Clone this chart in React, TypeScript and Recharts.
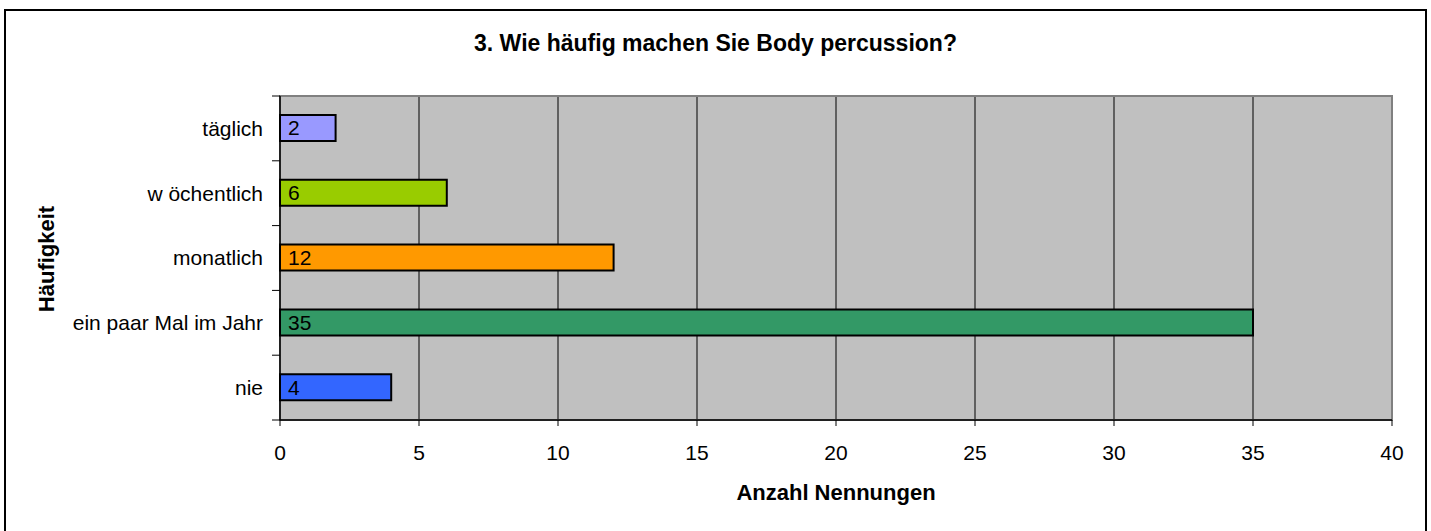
import { BarChart, Bar, XAxis, YAxis, CartesianGrid, Cell, LabelList, ReferenceArea } from 'recharts';

const categories = ['täglich', 'w öchentlich', 'monatlich', 'ein paar Mal im Jahr', 'nie'];
const counts = [2, 6, 12, 35, 4];
const xTicks = [0, 5, 10, 15, 20, 25, 30, 35, 40];

const barColors = ['#9999FF', '#99CC00', '#FF9900', '#339966', '#3366FF'];

const data = categories.map((name, i) => ({ name, value: counts[i] }));

const FONT = "'Liberation Sans', Arial, sans-serif";
const PLOT_HEIGHT = 324;
const BAND = PLOT_HEIGHT / categories.length;

const CategoryTick = (props: any) => {
  const { x, y, payload, index } = props;
  const half = BAND / 2;
  const last = index === categories.length - 1;
  return (
    <g>
      <line x1={x - 8} x2={x} y1={y - half} y2={y - half} stroke="#000" strokeWidth={1} />
      {last && <line x1={x - 8} x2={x} y1={y + half} y2={y + half} stroke="#000" strokeWidth={1} />}
      <text x={x - 17} y={y} dy="0.35em" textAnchor="end" fontSize={21} fontFamily={FONT} fill="#000">
        {payload.value}
      </text>
    </g>
  );
};

const App = () => {
  return (
    <div style={{ position: 'absolute', left: 0, top: 0, width: 1431, height: 531, overflow: 'hidden', background: '#fff', fontFamily: FONT }}>
      <div
        style={{
          position: 'absolute',
          left: 4,
          top: 9,
          width: 1423,
          height: 560,
          border: '2px solid #000',
          boxSizing: 'border-box',
        }}
      />
      <div style={{ position: 'absolute', left: 0, top: 29, width: 1431, textAlign: 'center', fontSize: 23, fontWeight: 'bold', lineHeight: '28px' }}>
        3. Wie häufig machen Sie Body percussion?
      </div>
      <div
        style={{
          position: 'absolute',
          left: 47,
          top: 259,
          transform: 'translate(-50%, -50%) rotate(-90deg)',
          whiteSpace: 'nowrap',
          fontSize: 22,
          fontWeight: 'bold',
          lineHeight: '26px',
        }}
      >
        Häufigkeit
      </div>
      <div style={{ position: 'absolute', left: 280, top: 480, width: 1112, textAlign: 'center', fontSize: 22, fontWeight: 'bold', lineHeight: '26px' }}>
        Anzahl Nennungen
      </div>
      <div style={{ position: 'absolute', left: 0, top: 0 }}>
        <BarChart
          width={1431}
          height={531}
          data={data}
          layout="vertical"
          margin={{ top: 96, right: 39, bottom: 71, left: 0 }}
          barSize={26}
        >
          <CartesianGrid horizontal={false} stroke="#000" strokeOpacity={1} fill="#C0C0C0" fillOpacity={1} />
          <ReferenceArea x1={0} x2={40} fill="none" fillOpacity={0} stroke="#808080" strokeWidth={2} ifOverflow="visible" />
          <XAxis
            type="number"
            domain={[0, 40]}
            ticks={xTicks}
            height={40}
            axisLine={{ stroke: '#000', strokeWidth: 1.5 }}
            tickLine={{ stroke: '#000' }}
            tickSize={6}
            tickMargin={19}
            tick={{ fill: '#000', fontSize: 21, fontFamily: FONT }}
          />
          <YAxis
            type="category"
            dataKey="name"
            width={280}
            axisLine={{ stroke: '#000', strokeWidth: 1.5 }}
            tickLine={false}
            tickSize={0}
            tickMargin={0}
            tick={<CategoryTick />}
            interval={0}
          />
          <Bar dataKey="value" stroke="#000" strokeWidth={2} isAnimationActive={false}>
            {data.map((d, i) => (
              <Cell key={d.name} fill={barColors[i]} />
            ))}
            <LabelList dataKey="value" position="insideLeft" offset={8} fill="#000" fontSize={21} fontFamily={FONT} />
          </Bar>
        </BarChart>
      </div>
    </div>
  );
};

export default App;
